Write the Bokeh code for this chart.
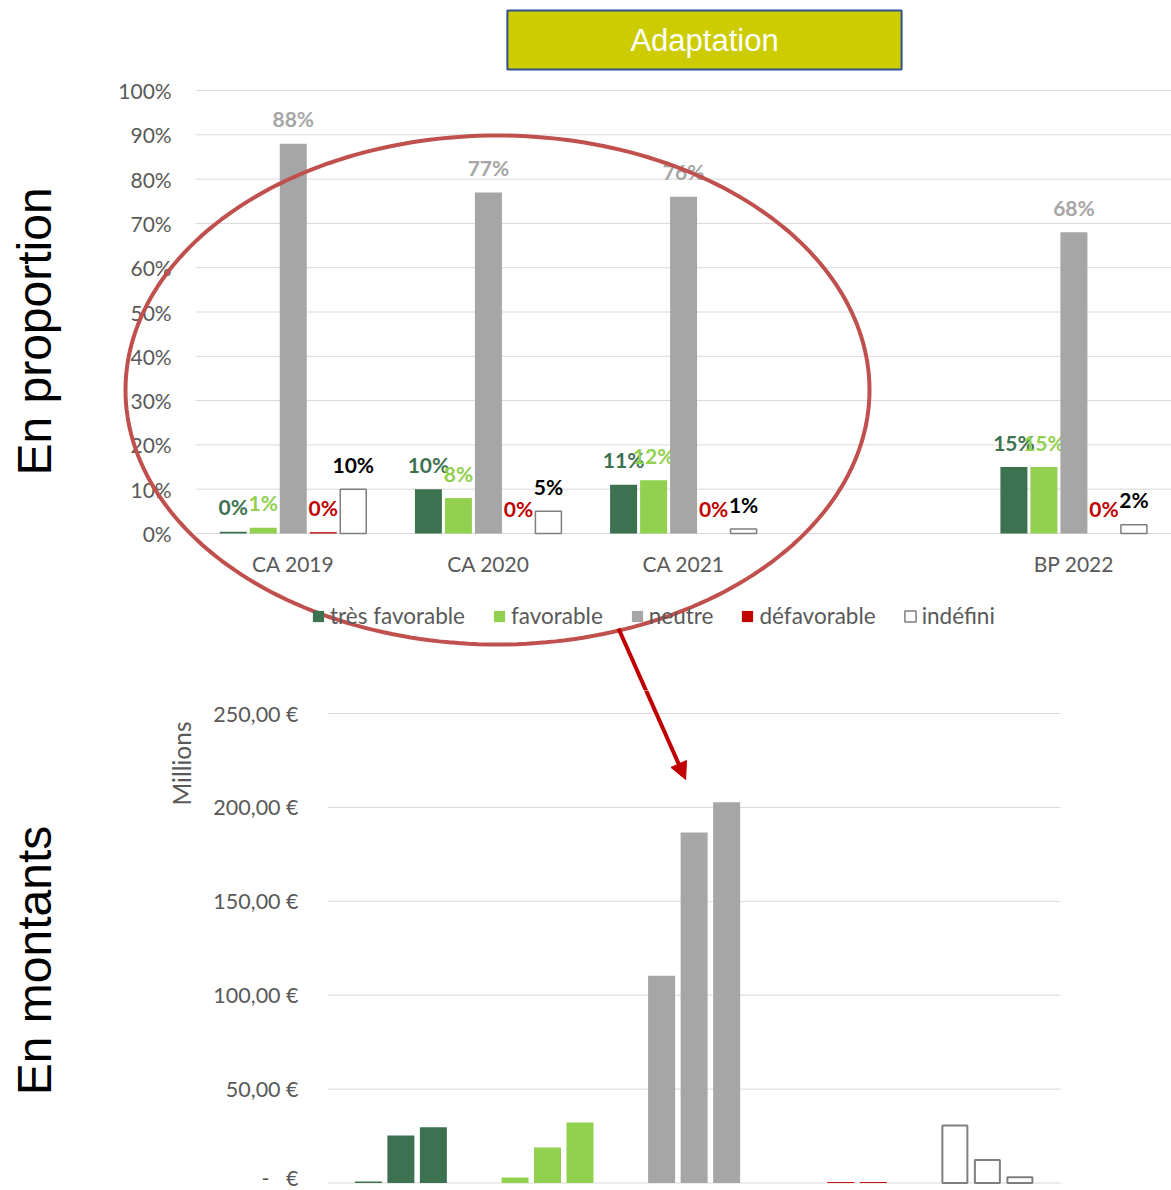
import math
from bokeh.plotting import figure
from bokeh.models import (ColumnDataSource, FactorRange, Range1d, FixedTicker,
                          Legend, LegendItem, Label, Arrow, NormalHead, PolyAnnotation)
from bokeh.transform import dodge
from bokeh.layouts import column
from bokeh.core.properties import value
from bokeh.embed import file_html
from bokeh.resources import INLINE

# ---------------- data ----------------
chart_title = "Adaptation"
years = ["CA 2019", "CA 2020", "CA 2021", "BP 2022"]
year_slots = [" ", "CA 2019", "CA 2020", "CA 2021", "  ", "BP 2022"]
series_names = ["très favorable", "favorable", "neutre", "défavorable", "indéfini"]

share_tres_favorable = [0.004, 0.10, 0.11, 0.15]
share_favorable = [0.013, 0.08, 0.12, 0.15]
share_neutre = [0.88, 0.77, 0.76, 0.68]
share_defavorable = [0.003, 0.0, 0.0, 0.0]
share_indefini = [0.10, 0.05, 0.01, 0.02]

pct_ticks = [0.0, 0.1, 0.2, 0.3, 0.4, 0.5, 0.6, 0.7, 0.8, 0.9, 1.0]
pct_tick_labels = ["0%", "10%", "20%", "30%", "40%", "50%", "60%", "70%", "80%", "90%", "100%"]

amount_groups = ["très favorable", "favorable", "neutre", "défavorable", "indéfini"]
amount_slots = ["  ", "   "] + amount_groups
amount_series_names = ["CA 2019", "CA 2020", "CA 2021"]
amount_ca2019 = [0.8, 2.9, 110.4, 0.0, 30.6]
amount_ca2020 = [25.3, 18.9, 186.7, 0.5, 12.3]
amount_ca2021 = [29.7, 32.2, 202.7, 0.5, 3.1]
amount_ticks = [0, 50, 100, 150, 200, 250]
amount_tick_labels = ["-\u00a0\u00a0\u00a0€", "50,00 €", "100,00 €", "150,00 €", "200,00 €", "250,00 €"]
amount_unit_label = "Millions"

row_label_top = "En proportion"
row_label_bottom = "En montants"

# ---------------- styles ----------------
C_DARK = "#3d7250"
C_LIGHT = "#92d050"
C_GREY = "#a6a6a6"
C_RED = "#c00000"
C_WHITE = "#ffffff"
C_EDGE = "#7f7f7f"
C_GRID = "#d9d9d9"
C_TXT = "#595959"
FONT = "Lato"
FONT_BIG = "Liberation Sans"

fill_colors = [C_DARK, C_LIGHT, C_GREY, C_RED, C_WHITE]
label_colors = [C_DARK, C_LIGHT, C_GREY, C_RED, "#000000"]

PAGE_W = 1171
TOP_H = 690
BOT_H = 500

# ---------------- top figure (frame = whole canvas) ----------------
T_ZERO, T_FULL = 533, 90
t_unit = PAGE_W / len(year_slots)
t_ppu = T_ZERO - T_FULL


def tx(X):
    return X / t_unit


def ty(Y):
    return (T_ZERO - Y) / t_ppu


p1 = figure(width=PAGE_W, height=TOP_H, x_range=FactorRange(factors=year_slots),
            y_range=Range1d(ty(TOP_H), ty(0)), output_backend="svg",
            toolbar_location=None, min_border=0)
p1.outline_line_color = None
p1.background_fill_color = "white"
p1.xgrid.visible = False
p1.ygrid.visible = False

first_slot = year_slots.index(years[0])
# horizontal gridlines over the plot area only
p1.segment(x0=[first_slot] * len(pct_ticks), x1=[len(year_slots)] * len(pct_ticks),
           y0=pct_ticks, y1=pct_ticks, line_color=C_GRID, line_width=1, level="underlay")

share_series = [share_tres_favorable, share_favorable, share_neutre,
                share_defavorable, share_indefini]
data1 = dict(year=years)
for i, vals in enumerate(share_series):
    data1[f"s{i}"] = vals
    data1[f"l{i}"] = [f"{round(v * 100)}%" for v in vals]
src1 = ColumnDataSource(data1)

bar_w1 = 26 / t_unit
step1 = 30 / t_unit
renderers1 = []
for i, name in enumerate(series_names):
    off = (i - 2) * step1
    if name == "indéfini":
        r = p1.vbar(x=dodge("year", off, range=p1.x_range), top=f"s{i}", width=bar_w1,
                    source=src1, fill_color=C_WHITE, line_color=C_EDGE, line_width=1.5)
    else:
        r = p1.vbar(x=dodge("year", off, range=p1.x_range), top=f"s{i}",
                    width=bar_w1 + 1 / t_unit, source=src1, fill_color=fill_colors[i],
                    line_color=None)
    renderers1.append(r)
    p1.text(x=dodge("year", off, range=p1.x_range), y=f"s{i}", text=f"l{i}", source=src1,
            y_offset=-25, text_align="center", text_baseline="middle",
            text_font=value(FONT), text_font_style="bold", text_font_size="21px",
            text_color=label_colors[i])

p1.xaxis.fixed_location = 0
p1.xaxis.axis_line_color = None
p1.xaxis.major_tick_line_color = None
p1.xaxis.minor_tick_line_color = None
p1.xaxis.major_label_text_font = FONT
p1.xaxis.major_label_text_font_size = "21px"
p1.xaxis.major_label_text_color = C_TXT
p1.xaxis.major_label_standoff = 11

p1.yaxis.fixed_location = first_slot
p1.yaxis.ticker = FixedTicker(ticks=pct_ticks)
p1.yaxis.major_label_overrides = {t: s for t, s in zip(pct_ticks, pct_tick_labels)}
p1.yaxis.axis_line_color = None
p1.yaxis.major_tick_line_color = None
p1.yaxis.minor_tick_line_color = None
p1.yaxis.major_tick_out = 0
p1.yaxis.major_label_standoff = 24
p1.yaxis.major_label_text_font = FONT
p1.yaxis.major_label_text_font_size = "21px"
p1.yaxis.major_label_text_color = C_TXT

legend = Legend(items=[LegendItem(label=n, renderers=[r]) for n, r in zip(series_names, renderers1)],
                orientation="horizontal", location=(311, TOP_H - 629),
                label_text_font=FONT, label_text_font_size="22.5px", label_text_color=C_TXT,
                glyph_width=14, glyph_height=14, label_standoff=5, spacing=27,
                padding=0, margin=0, border_line_color=None, background_fill_alpha=0)
p1.add_layout(legend)

# title box
p1.add_layout(Label(x=tx(704), y=ty(39.5), text=chart_title, text_align="center",
                    text_baseline="middle", text_font=FONT_BIG, text_font_size="31px",
                    text_color="white", background_fill_color="#cccc00",
                    border_line_color="#2f528f", border_line_width=2,
                    padding=dict(left=123, right=123, top=12, bottom=12)))

# row label
p1.add_layout(Label(x=tx(34), y=ty(331), text=row_label_top, angle=math.pi / 2,
                    text_align="center", text_baseline="alphabetic", text_font=FONT_BIG,
                    text_font_size="48px", text_color="black"))

# ellipse highlight
n = 240
ex = [tx(497 + 372 * math.cos(2 * math.pi * k / n)) for k in range(n)]
ey = [ty(389.5 + 254.5 * math.sin(2 * math.pi * k / n)) for k in range(n)]
p1.add_layout(PolyAnnotation(xs=ex, ys=ey, fill_color=None, fill_alpha=0,
                             line_color="#c0504d", line_alpha=1.0, line_width=4))

# arrow part in the upper figure
A0 = (618, 628)
A1 = (685, 779)


def arrow_x(Y):
    return A0[0] + (A1[0] - A0[0]) * (Y - A0[1]) / (A1[1] - A0[1])


p1.add_layout(Arrow(end=None, x_start=tx(A0[0]), y_start=ty(A0[1]),
                    x_end=tx(arrow_x(TOP_H + 3)), y_end=ty(TOP_H + 3),
                    line_color=C_RED, line_width=4))

# ---------------- bottom figure (frame = whole canvas) ----------------
B_LEFT, B_RIGHT, B_ZERO, B_TOP_TICK = 327, 1060, 1182.5, 713
first_group = amount_slots.index(amount_groups[0])
b_unit = (B_RIGHT - B_LEFT) / len(amount_groups)
b_pad = B_LEFT / b_unit - first_group
BOT_W = int(round(B_RIGHT + b_pad * b_unit))
b_ppu = (B_ZERO - B_TOP_TICK) / amount_ticks[-1]


def bx(X):
    return X / b_unit - b_pad


def by(Y):
    return (B_ZERO - Y) / b_ppu


p2 = figure(width=BOT_W, height=BOT_H,
            x_range=FactorRange(factors=amount_slots, range_padding=b_pad,
                                range_padding_units="absolute"),
            y_range=Range1d(by(TOP_H + BOT_H), by(TOP_H)), output_backend="svg",
            toolbar_location=None, min_border=0)
p2.outline_line_color = None
p2.xgrid.visible = False
p2.ygrid.visible = False

p2.segment(x0=[first_group] * len(amount_ticks), x1=[len(amount_slots)] * len(amount_ticks),
           y0=amount_ticks, y1=amount_ticks, line_color=C_GRID, line_width=1, level="underlay")

src2_col = ColumnDataSource(dict(group=amount_groups[:4], a0=amount_ca2019[:4],
                                 a1=amount_ca2020[:4], a2=amount_ca2021[:4],
                                 fill=fill_colors[:4]))
src2_ind = ColumnDataSource(dict(group=amount_groups[4:], a0=amount_ca2019[4:],
                                 a1=amount_ca2020[4:], a2=amount_ca2021[4:]))
bar_w2 = 27 / b_unit
step2 = 32.5 / b_unit
for j, key in enumerate(["a0", "a1", "a2"]):
    off = (j - 1) * step2
    p2.vbar(x=dodge("group", off, range=p2.x_range), top=key, width=bar_w2, source=src2_col,
            fill_color="fill", line_color=None)
    p2.vbar(x=dodge("group", off, range=p2.x_range), top=key, width=bar_w2 - 2 / b_unit,
            source=src2_ind, fill_color=C_WHITE, line_color=C_EDGE, line_width=2)

p2.xaxis.visible = False
p2.yaxis.fixed_location = first_group
p2.yaxis.ticker = FixedTicker(ticks=amount_ticks)
p2.yaxis.major_label_overrides = {t: s for t, s in zip(amount_ticks, amount_tick_labels)}
p2.yaxis.axis_line_color = None
p2.yaxis.major_tick_line_color = None
p2.yaxis.minor_tick_line_color = None
p2.yaxis.major_tick_out = 0
p2.yaxis.major_label_standoff = 29
p2.yaxis.major_label_text_font = FONT
p2.yaxis.major_label_text_font_size = "21.5px"
p2.yaxis.major_label_text_color = C_TXT

p2.add_layout(Label(x=bx(181), y=by(763), text=amount_unit_label, angle=math.pi / 2,
                    text_align="center", text_baseline="alphabetic", text_font=FONT,
                    text_font_size="24.5px", text_color=C_TXT))
p2.add_layout(Label(x=bx(34), y=by(960), text=row_label_bottom, angle=math.pi / 2,
                    text_align="center", text_baseline="alphabetic", text_font=FONT_BIG,
                    text_font_size="48px", text_color="black"))
p2.add_layout(Arrow(end=NormalHead(size=17, fill_color=C_RED, line_color=C_RED, line_width=1),
                    x_start=bx(arrow_x(TOP_H - 3)), y_start=by(TOP_H - 3),
                    x_end=bx(A1[0]), y_end=by(A1[1]),
                    line_color=C_RED, line_width=4))

layout = column(p1, p2, spacing=0)
open("out.html", "w").write(file_html(layout, INLINE))
